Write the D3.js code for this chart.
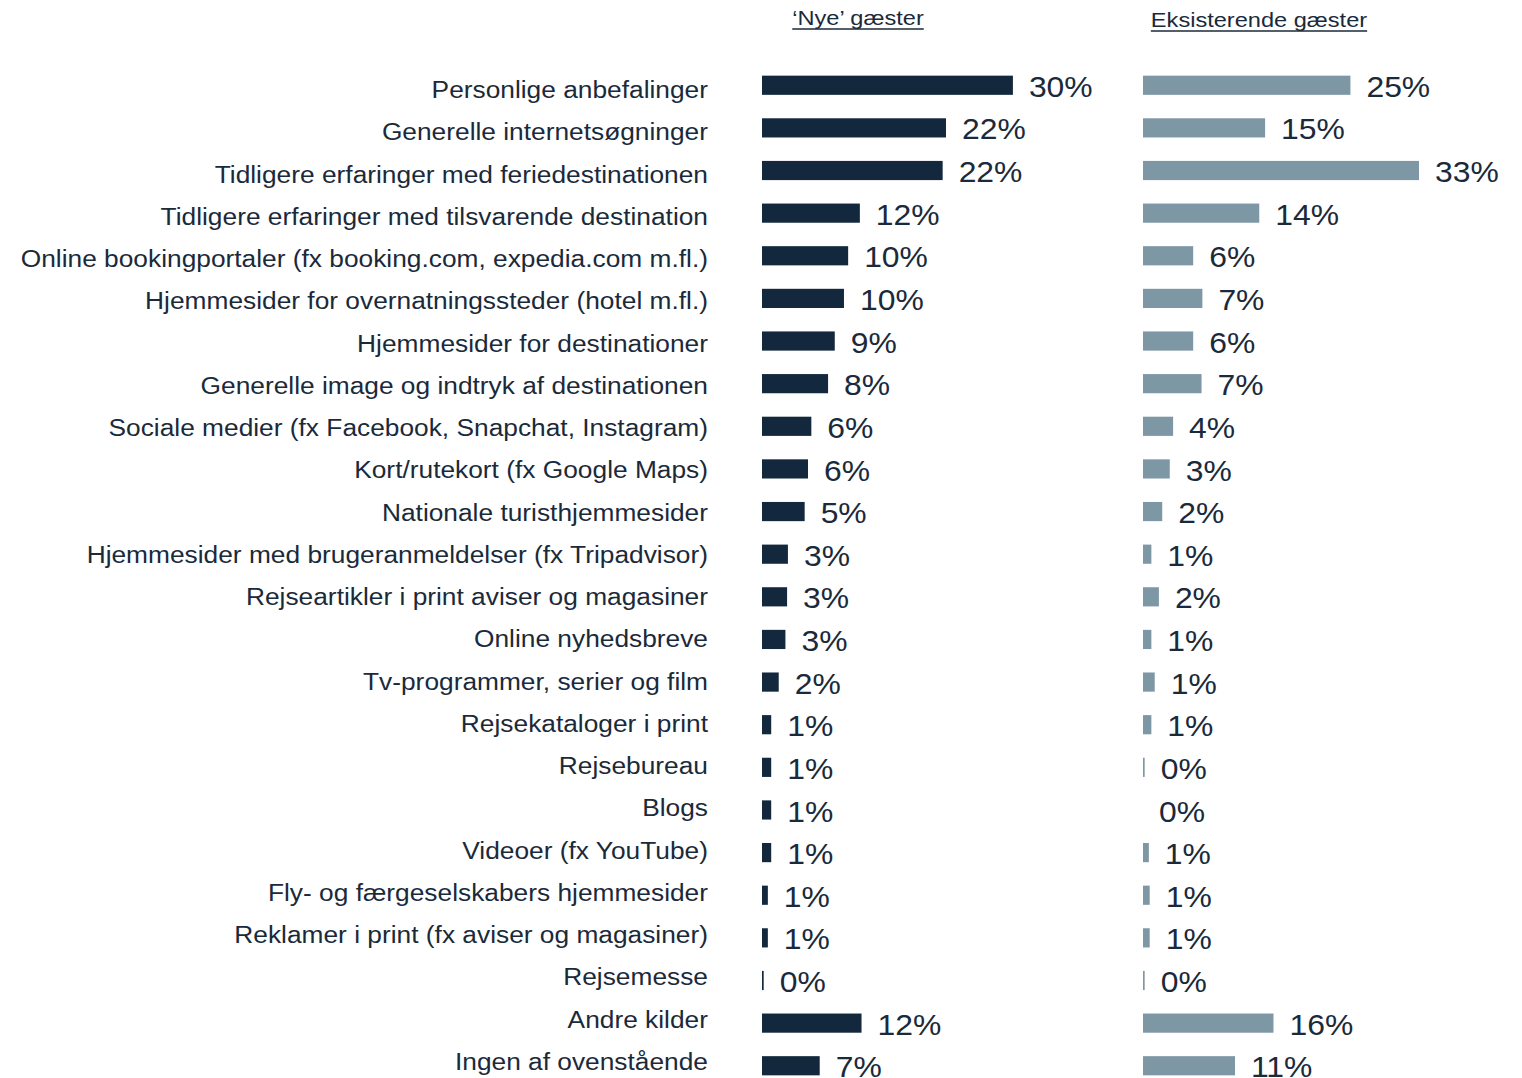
<!DOCTYPE html>
<html lang="da">
<head>
<meta charset="utf-8" />
<title>Inspirationskilder</title>
<script src="https://cdn.jsdelivr.net/npm/d3@7"></script>
<style>
  body { margin: 0; background: #fff; font-family: "Liberation Sans", Arial, sans-serif; }
</style>
</head>
<body>
<div id="chart"></div>
<script>
var categories = [
  "Personlige anbefalinger",
  "Generelle internetsøgninger",
  "Tidligere erfaringer med feriedestinationen",
  "Tidligere erfaringer med tilsvarende destination",
  "Online bookingportaler (fx booking.com, expedia.com m.fl.)",
  "Hjemmesider for overnatningssteder (hotel m.fl.)",
  "Hjemmesider for destinationer",
  "Generelle image og indtryk af destinationen",
  "Sociale medier (fx Facebook, Snapchat, Instagram)",
  "Kort/rutekort (fx Google Maps)",
  "Nationale turisthjemmesider",
  "Hjemmesider med brugeranmeldelser (fx Tripadvisor)",
  "Rejseartikler i print aviser og magasiner",
  "Online nyhedsbreve",
  "Tv-programmer, serier og film",
  "Rejsekataloger i print",
  "Rejsebureau",
  "Blogs",
  "Videoer (fx YouTube)",
  "Fly- og færgeselskabers hjemmesider",
  "Reklamer i print (fx aviser og magasiner)",
  "Rejsemesse",
  "Andre kilder",
  "Ingen af ovenstående"
];

// 'Nye' gæster (%)
var nyeValues = [30.0, 22.0, 21.6, 11.7, 10.3, 9.8, 8.7, 7.9, 5.9, 5.5, 5.1, 3.1, 3.0, 2.8, 2.0, 1.1, 1.1, 1.1, 1.1, 0.7, 0.7, 0.2, 11.9, 6.9];
// Eksisterende gæster (%)
var eksValues = [24.8, 14.6, 33.0, 13.9, 6.0, 7.1, 6.0, 7.0, 3.6, 3.2, 2.3, 1.0, 1.9, 1.0, 1.4, 1.0, 0.2, 0.0, 0.7, 0.8, 0.8, 0.2, 15.6, 11.0];

var seriesNames = ["\u2018Nye\u2019 gæster", "Eksisterende gæster"];

var width = 1522, height = 1078;
var textColor = "#1a2a3a";

var svg = d3.select("#chart").append("svg")
    .attr("width", width)
    .attr("height", height);

// bar rows
var y = d3.scaleBand()
    .domain(categories)
    .range([65, 1086])
    .paddingInner(0.55)
    .paddingOuter(0.25);

// label rows sit on a slightly tighter grid than the bars
var yLabel = d3.scalePoint()
    .domain(categories)
    .range([90, 1062]);

var x = d3.scaleLinear()
    .domain([0, 33])
    .range([0, 276]);

// category labels (the original text is slightly stretched horizontally)
svg.append("g").selectAll("text")
  .data(categories)
  .join("text")
    .attr("transform", function(d) {
      return "translate(708," + (yLabel(d) + 8) + ") scale(1.12,1)";
    })
    .attr("text-anchor", "end")
    .attr("fill", textColor)
    .style("font-size", "23.5px")
    .text(function(d) { return d; });

var panels = [
  { name: seriesNames[0], values: nyeValues, x0: 762, color: "#13283c", titleX: 858, titleY: 25 },
  { name: seriesNames[1], values: eksValues, x0: 1143, color: "#7e97a4", titleX: 1259, titleY: 27 }
];

panels.forEach(function(p) {
  var g = svg.append("g").attr("transform", "translate(" + p.x0 + ",0)");

  g.selectAll("rect")
    .data(p.values)
    .join("rect")
      .attr("x", 0)
      .attr("y", function(d, i) { return y(categories[i]); })
      .attr("width", function(d) { return x(d); })
      .attr("height", y.bandwidth())
      .attr("fill", p.color);

  g.selectAll("text.val")
    .data(p.values)
    .join("text")
      .attr("class", "val")
      .attr("transform", function(d, i) {
        return "translate(" + (x(d) + 16) + "," + (y(categories[i]) + y.bandwidth() + 2) + ") scale(1.08,1)";
      })
      .attr("fill", textColor)
      .style("font-size", "29.5px")
      .text(function(d) { return d3.format(".0f")(d) + "%"; });

  var t = svg.append("text")
      .attr("transform", "translate(" + p.titleX + "," + p.titleY + ") scale(1.18,1)")
      .attr("text-anchor", "middle")
      .attr("fill", textColor)
      .style("font-size", "20px")
      .text(p.name);
  var w = t.node().getBBox().width * 1.18;
  svg.append("line")
      .attr("x1", p.titleX - w / 2).attr("x2", p.titleX + w / 2)
      .attr("y1", p.titleY + 4).attr("y2", p.titleY + 4)
      .attr("stroke", textColor)
      .attr("stroke-width", 1.5);
});
</script>
</body>
</html>
